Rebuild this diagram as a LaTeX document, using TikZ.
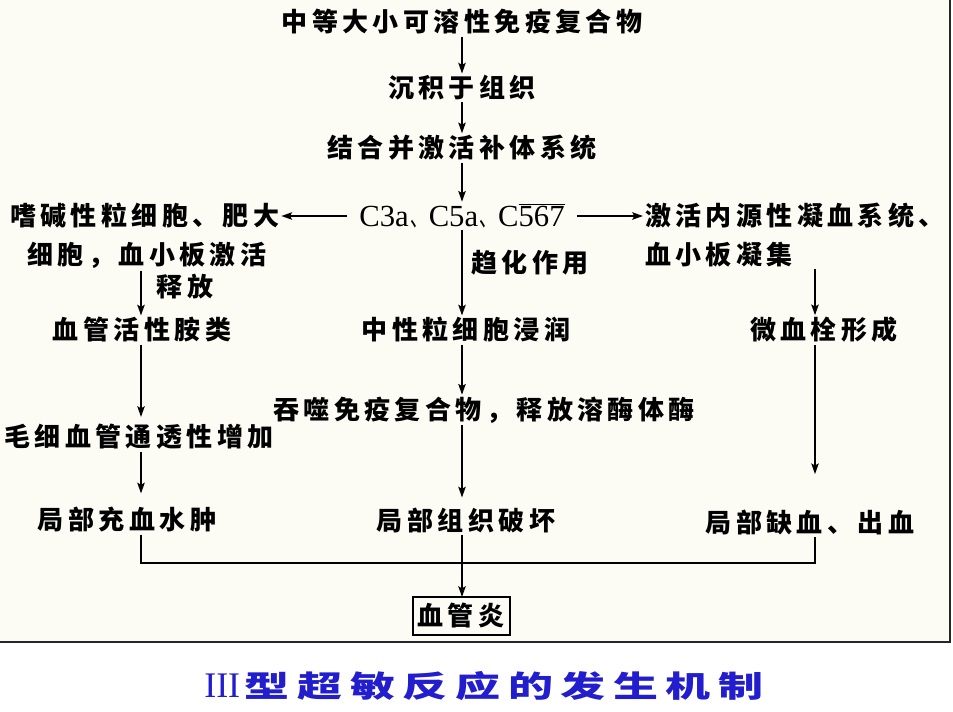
\documentclass[tikz,border=0pt]{standalone}
\usepackage{fontspec}
\setmainfont{Liberation Serif}
\newfontfamily\cjk[LetterSpace=17]{Noto Sans CJK SC}
\newfontfamily\cjkn{Noto Sans CJK SC}
\newcommand\narrowcomma{\scalebox{0.62}[1]{\cjkn\fontsize{21pt}{21pt}\selectfont 、}}
\usetikzlibrary{arrows.meta}
\definecolor{panel}{RGB}{252,252,245}
\definecolor{ttl}{RGB}{35,30,205}
\begin{document}
\begin{tikzpicture}[x=0.75pt,y=-0.75pt,
  txt/.style={font=\cjk\bfseries\fontsize{19.5pt}{29.25pt}\selectfont, inner sep=1.5pt, outer sep=0pt},
  lat/.style={font=\fontsize{23pt}{28pt}\selectfont, inner sep=1.5pt, outer sep=0pt},
  conn/.style={draw, line width=1.4pt, black},
  arr/.style={conn, -{Stealth[length=8pt,width=5.5pt,inset=1.5pt]}}]
\useasboundingbox (0,0) rectangle (953,711);
\fill[white] (0,0) rectangle (953,711);
\fill[panel] (0,0) rectangle (950,642);
\draw[line width=2pt, black!85] (0,642) -- (950,642) -- (950,0);

\coordinate (csp) at (462,0);
\coordinate (lsp) at (141,0);
\coordinate (rsp) at (815,0);
\coordinate (bus) at (462,563);

% centre column
\node[txt] (n1) at (462,22) {中等大小可溶性免疫复合物};
\node[txt] (n2) at (462,88) {沉积于组织};
\node[txt] (n3) at (462,148) {结合并激活补体系统};
\node[lat, inner xsep=9pt] (c) at (462,216) {C3a\kern1pt\narrowcomma\kern1pt C5a\kern1pt\narrowcomma\kern1pt C$\overline{\mbox{567}}$};
\node[txt] (chem) at (530,263) {趋化作用};
\node[txt] (n4) at (466,330) {中性粒细胞浸润};
\node[txt] (n5) at (484,410) {吞噬免疫复合物，释放溶酶体酶};
\node[txt] (n6) at (466,520) {局部组织破坏};
\node[txt, draw, line width=1.5pt, minimum width=72.75pt, minimum height=28.5pt] (box) at (461,616) {血管炎};

% left column
\node[txt, align=left, anchor=north west] (L1) at (8,201) {嗜碱性粒细胞、肥大\\\hspace*{13pt}细胞，血小板激活};
\node[txt] (rel) at (185,287) {释放};
\node[txt] (B) at (142,330) {血管活性胺类};
\node[txt] (Bp) at (139,437) {毛细血管通透性增加};
\node[txt] (Be) at (127,520) {局部充血水肿};

% right column
\node[txt, align=left, anchor=north west] (R1) at (643,201) {激活内源性凝血系统、\\血小板凝集};
\node[txt] (Rt) at (824,330) {微血栓形成};
\node[txt] (Ri) at (810,522) {局部缺血、出血};

% title
\node[anchor=west, text=ttl, inner sep=0pt] (t0) at (204,686) {\fontsize{27pt}{30pt}\selectfont III};
\node[anchor=west, text=ttl, inner sep=0pt] (t1) at ([xshift=3pt]t0.east) {\scalebox{1.5}[1]{\cjk\bfseries\fontsize{22.5pt}{26pt}\selectfont 型超敏反应的发生机制}};

% connectors centre
\draw[arr] (n1.south -| csp) -- (n2.north -| csp);
\draw[arr] (n2.south -| csp) -- (n3.north -| csp);
\draw[arr] (n3.south -| csp) -- (c.north -| csp);
\draw[arr] (c.south -| csp) -- (n4.north -| csp);
\draw[arr] (n4.south -| csp) -- (n5.north -| csp);
\draw[arr, shorten >=6pt] (n5.south -| csp) -- (n6.north -| csp);
\draw[arr] (c.west) -- (c.west -| L1.east);
\draw[arr] (c.east) -- (c.east -| R1.west);

% left
\draw[arr] (L1.south -| lsp) -- (B.north -| lsp);
\draw[arr, shorten >=4pt] (B.south -| lsp) -- (Bp.north -| lsp);
\draw[arr, shorten >=9pt] (Bp.south -| lsp) -- (Be.north -| lsp);

% right
\draw[arr] (R1.south -| rsp) -- (Rt.north -| rsp);
\draw[arr, shorten >=25pt] (Rt.south -| rsp) -- (Ri.north -| rsp);

% bottom bus
\draw[conn] (Be.south -| lsp) |- (bus) -| (Ri.south -| rsp);
\draw[arr] (n6.south -| csp) -- (box.north -| csp);
\end{tikzpicture}
\end{document}
